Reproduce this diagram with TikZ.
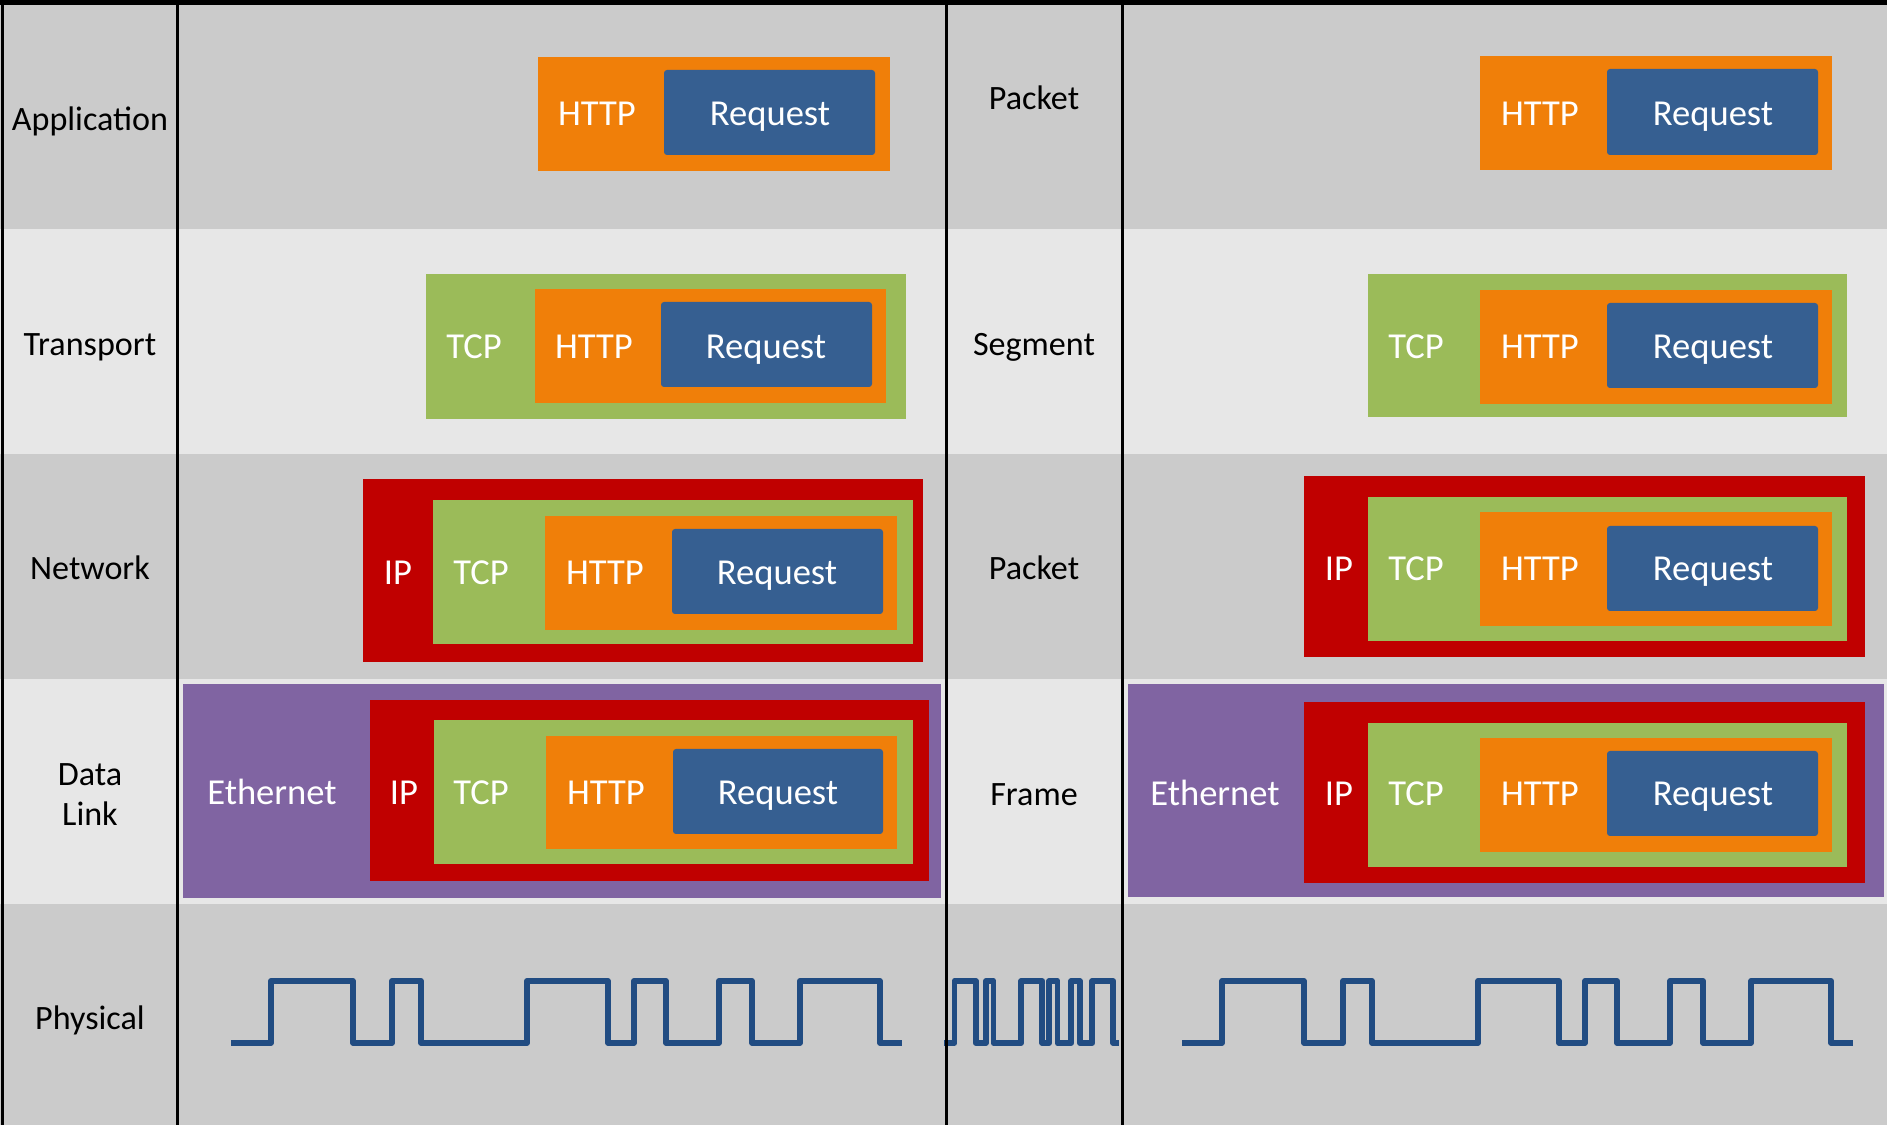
\documentclass[tikz,border=0pt]{standalone}
\usepackage{fontspec}
\setmainfont{Carlito}
\definecolor{darkbg}{HTML}{CBCBCB}
\definecolor{lightbg}{HTML}{E7E7E7}
\definecolor{httpor}{HTML}{F07F09}
\definecolor{reqblue}{HTML}{365F91}
\definecolor{tcpgreen}{HTML}{9BBB59}
\definecolor{ipred}{HTML}{C00000}
\definecolor{ethpurple}{HTML}{8064A2}
\definecolor{wave}{HTML}{214C82}
\newcommand\mybox[5]{\fill[#1] (#2,#3) rectangle (#4,#5);}
\newcommand\mywave{(231,1043) -- (271,1043) -- (271,981) -- (353,981) -- (353,1043) -- (392,1043) -- (392,981) -- (421,981) -- (421,1043) -- (527,1043) -- (527,981) -- (608,981) -- (608,1043) -- (634,1043) -- (634,981) -- (666,981) -- (666,1043) -- (719,1043) -- (719,981) -- (752,981) -- (752,1043) -- (800,1043) -- (800,981) -- (880,981) -- (880,1043) -- (902,1043)}
\begin{document}
\begin{tikzpicture}[x=0.01cm,y=-0.01cm,
  wt/.style={text=white,font=\fontsize{10.4}{12}\selectfont,inner sep=0pt,anchor=base,yshift=-0.025cm},
  lbl/.style={text=black,font=\fontsize{9.7}{11.6}\selectfont,inner sep=0pt,anchor=base,yshift=-0.025cm},
  rule/.style={line width=0.03cm,draw=black},
  sig/.style={draw=wave,line width=0.058cm,line join=round}]
\useasboundingbox (0,0) rectangle (1887,1125);
% row backgrounds
\fill[darkbg] (0,0) rectangle (1887,229);
\fill[lightbg] (0,229) rectangle (1887,454);
\fill[darkbg] (0,454) rectangle (1887,679);
\fill[lightbg] (0,679) rectangle (1887,904);
\fill[darkbg] (0,904) rectangle (1887,1125);
% Application
\mybox{httpor}{538}{57}{890}{171}
\fill[reqblue,rounded corners=0.03cm] (664,70) rectangle (875,155);
\mybox{httpor}{1480}{56}{1832}{170}
\fill[reqblue,rounded corners=0.03cm] (1607,69) rectangle (1818,155);
% Transport
\mybox{tcpgreen}{426}{274}{906}{419}
\mybox{httpor}{535}{289}{886}{403}
\fill[reqblue,rounded corners=0.03cm] (661,302) rectangle (872,387);
\mybox{tcpgreen}{1368}{274}{1847}{417}
\mybox{httpor}{1480}{290}{1832}{404}
\fill[reqblue,rounded corners=0.03cm] (1607,303) rectangle (1818,388);
% Network
\mybox{ipred}{363}{479}{923}{662}
\mybox{tcpgreen}{433}{500}{913}{644}
\mybox{httpor}{545}{516}{897}{630}
\fill[reqblue,rounded corners=0.03cm] (672,529) rectangle (883,614);
\mybox{ipred}{1304}{476}{1865}{657}
\mybox{tcpgreen}{1368}{497}{1847}{641}
\mybox{httpor}{1480}{512}{1832}{626}
\fill[reqblue,rounded corners=0.03cm] (1607,526) rectangle (1818,611);
% Data link
\mybox{ethpurple}{183}{684}{941}{898}
\mybox{ipred}{370}{700}{929}{881}
\mybox{tcpgreen}{434}{720}{913}{864}
\mybox{httpor}{546}{736}{897}{849}
\fill[reqblue,rounded corners=0.03cm] (673,749) rectangle (883,834);
\mybox{ethpurple}{1128}{684}{1884}{897}
\mybox{ipred}{1304}{702}{1865}{883}
\mybox{tcpgreen}{1368}{723}{1847}{867}
\mybox{httpor}{1480}{738}{1832}{852}
\fill[reqblue,rounded corners=0.03cm] (1607,751) rectangle (1818,836);
% physical waves
\draw[sig] \mywave;
\begin{scope}[shift={(951,0)}]
\draw[sig] \mywave;
\end{scope}
\begin{scope}[shift={(883.8,0)},xscale=0.2607]
\draw[sig] \mywave;
\end{scope}
% grid lines
\fill[black] (0,0) rectangle (1887,5);
\draw[rule] (2.5,0) -- (2.5,1125);
\draw[rule] (177.5,0) -- (177.5,1125);
\draw[rule] (946,0) -- (946,1125);
\draw[rule] (1122,0) -- (1122,1125);
% layer labels
\node[lbl] (lApp) at (90,128) {Application};
\node[lbl] (lTra) at (90,353) {Transport};
\node[lbl] (lNet) at (90,577) {Network};
\node[lbl] (lDat) at (90,783) {Data};
\node[lbl] (lLnk) at (90,823) {Link};
\node[lbl] (lPhy) at (90,1027) {Physical};
% PDU labels
\node[lbl] (pApp) at (1034,107) {Packet};
\node[lbl] (pTra) at (1034,353) {Segment};
\node[lbl] (pNet) at (1034,577) {Packet};
\node[lbl] (pDat) at (1034,803) {Frame};
% Application texts
\node[wt] (a1) at (597,123) {HTTP};
\node[wt] (a2) at (770,123) {Request};
\node[wt] (a3) at (1540,123) {HTTP};
\node[wt] (a4) at (1713,123) {Request};
% Transport texts
\node[wt] (t1) at (474,356) {TCP};
\node[wt] (t2) at (594,356) {HTTP};
\node[wt] (t3) at (766,356) {Request};
\node[wt] (t4) at (1416,356) {TCP};
\node[wt] (t5) at (1540,356) {HTTP};
\node[wt] (t6) at (1713,356) {Request};
% Network texts
\node[wt] (n1) at (398,582) {IP};
\node[wt] (n2) at (481,582) {TCP};
\node[wt] (n3) at (605,582) {HTTP};
\node[wt] (n4) at (777,582) {Request};
\node[wt] (n5) at (1339,578) {IP};
\node[wt] (n6) at (1416,578) {TCP};
\node[wt] (n7) at (1540,578) {HTTP};
\node[wt] (n8) at (1713,578) {Request};
% Data link texts
\node[wt] (d1) at (272,802) {Ethernet};
\node[wt] (d2) at (404,802) {IP};
\node[wt] (d3) at (481,802) {TCP};
\node[wt] (d4) at (606,802) {HTTP};
\node[wt] (d5) at (778,802) {Request};
\node[wt] (d6) at (1215,803) {Ethernet};
\node[wt] (d7) at (1339,803) {IP};
\node[wt] (d8) at (1416,803) {TCP};
\node[wt] (d9) at (1540,803) {HTTP};
\node[wt] (d10) at (1713,803) {Request};
\end{tikzpicture}
\end{document}
